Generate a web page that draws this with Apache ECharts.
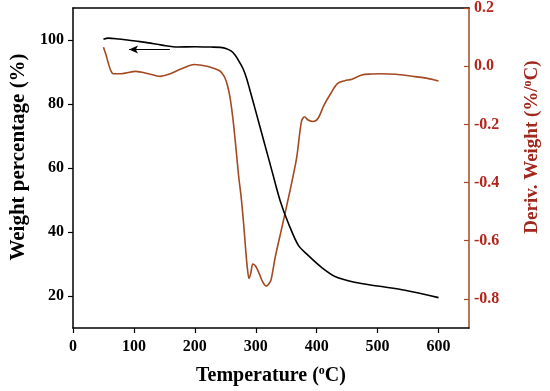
<!DOCTYPE html>
<html>
<head>
<meta charset="utf-8">
<script src="https://cdn.jsdelivr.net/npm/echarts@6/dist/echarts.min.js"></script>
<style>html,body{margin:0;padding:0;background:#fff}#c{width:550px;height:391px}</style>
</head>
<body>
<div id="c"></div>
<script>
// Weight (TG) curve
var tgTemp = [50, 58, 75, 92, 110, 124, 146, 172, 200, 226, 242, 252, 260, 266, 272, 279, 285, 290, 300, 313, 327, 340, 354, 370, 386, 407, 431, 462, 500, 545, 600];
var tgWeight = [100.2, 100.6, 100.3, 99.9, 99.5, 99.1, 98.4, 97.8, 97.9, 97.8, 97.7, 97.3, 96.5, 95.3, 93.5, 91.1, 88.0, 84.6, 77.7, 68.6, 58.8, 49.8, 42.5, 35.8, 32.7, 29.1, 26.0, 24.3, 23.1, 21.8, 19.5];
// Derivative weight (DTG) curve
var dtgTemp = [50, 54, 58, 62, 66, 79, 103, 124, 143, 156, 178, 199, 220, 232, 240, 245, 250, 254, 258, 263, 268, 272, 276, 280, 283, 286, 289, 292, 295, 299, 303, 307, 311, 317, 321, 325, 332, 343, 356, 367, 375, 380, 386, 394, 402, 412, 423, 434, 446, 458, 474, 490, 506, 530, 554, 580, 600];
var dtgValue = [0.065, 0.04, 0.01, -0.015, -0.026, -0.026, -0.018, -0.026, -0.035, -0.029, -0.009, 0.006, 0.0, -0.008, -0.015, -0.025, -0.043, -0.07, -0.111, -0.19, -0.293, -0.38, -0.45, -0.54, -0.62, -0.69, -0.73, -0.71, -0.68, -0.685, -0.70, -0.72, -0.74, -0.756, -0.75, -0.735, -0.656, -0.553, -0.43, -0.316, -0.19, -0.174, -0.185, -0.19, -0.18, -0.134, -0.094, -0.06, -0.05, -0.045, -0.03, -0.027, -0.026, -0.028, -0.034, -0.041, -0.051];
// Tick values
var xTicks = [0, 100, 200, 300, 400, 500, 600];
var leftTicks = [20, 40, 60, 80, 100];
var rightTicks = [-0.8, -0.6, -0.4, -0.2, 0.0, 0.2];
// Arrow (points to weight axis)
var arrowStart = [159, 97];
var arrowEnd = [92, 97];

function zip(a, b) { return a.map(function (v, i) { return [v, b[i]]; }); }

var FONT = '"Liberation Serif","Times New Roman",serif';
var BROWN = '#a34a22';
var RED = '#b3261e';

var chart = echarts.init(document.getElementById('c'), null, {renderer: 'canvas'});
chart.setOption({
  animation: false,
  backgroundColor: '#fff',
  grid: {left: 69, right: 75, top: 5, bottom: 63, containLabel: false},
  xAxis: [{
    type: 'value', min: 0, max: 650,
    axisLine: {show: true, onZero: false, lineStyle: {color: '#000', width: 1.5}},
    axisTick: {show: true, inside: false, length: 5, customValues: xTicks, lineStyle: {color: '#000', width: 1.2}},
    axisLabel: {customValues: xTicks, margin: 11, fontFamily: FONT, fontWeight: 'bold', fontSize: 16, color: '#000'},
    splitLine: {show: false},
    name: 'Temperature ({sup|o}C)', nameLocation: 'middle', nameGap: 37,
    nameTextStyle: {fontFamily: FONT, fontWeight: 'bold', fontSize: 20, color: '#000',
      rich: {sup: {fontFamily: FONT, fontWeight: 'bold', fontSize: 12, color: '#000', padding: [0, 0, 9, 0]}}}
  }, {
    type: 'value', min: 0, max: 650, position: 'top',
    axisLine: {show: true, onZero: false, lineStyle: {color: '#000', width: 1.5}},
    axisTick: {show: false}, axisLabel: {show: false}, splitLine: {show: false}
  }],
  yAxis: [{
    type: 'value', min: 10, max: 110, position: 'left',
    axisLine: {show: true, onZero: false, lineStyle: {color: '#000', width: 1.5}},
    axisTick: {show: true, inside: false, length: 5, customValues: leftTicks, lineStyle: {color: '#000', width: 1.2}},
    axisLabel: {customValues: leftTicks, margin: 9, fontFamily: FONT, fontWeight: 'bold', fontSize: 16, color: '#000'},
    splitLine: {show: false},
    name: 'Weight percentage (%)', nameLocation: 'middle', nameGap: 44, nameRotate: 90,
    nameTextStyle: {fontFamily: FONT, fontWeight: 'bold', fontSize: 21, color: '#000', padding: [0, 0, 0, 22]}
  }, {
    type: 'value', min: -0.9, max: 0.2, position: 'right',
    axisLine: {show: true, onZero: false, lineStyle: {color: BROWN, width: 1.5}},
    axisTick: {show: true, inside: true, length: 5, customValues: rightTicks, lineStyle: {color: BROWN, width: 1.2}},
    axisLabel: {customValues: rightTicks, margin: 5, fontFamily: FONT, fontWeight: 'bold', fontSize: 16, color: RED,
      formatter: function (v) { return v.toFixed(1); }},
    splitLine: {show: false},
    name: 'Deriv. Weight (%/{sup|o}C)', nameLocation: 'middle', nameGap: 53, nameRotate: 90,
    nameTextStyle: {fontFamily: FONT, fontWeight: 'bold', fontSize: 19, color: '#a0281c', padding: [0, 0, 0, 42],
      rich: {sup: {fontFamily: FONT, fontWeight: 'bold', fontSize: 12, color: '#a0281c', padding: [0, 0, 9, 0]}}}
  }],
  series: [{
    type: 'line', xAxisIndex: 0, yAxisIndex: 0, data: zip(tgTemp, tgWeight),
    showSymbol: false, smooth: 0.3, lineStyle: {color: '#000', width: 1.6}, z: 3,
    markLine: {
      silent: true, symbol: ['none', 'arrow'], symbolSize: [6, 9],
      label: {show: false},
      lineStyle: {color: '#000', width: 1.1, type: 'solid'},
      data: [[{coord: arrowStart}, {coord: arrowEnd}]]
    }
  }, {
    type: 'line', xAxisIndex: 0, yAxisIndex: 1, data: zip(dtgTemp, dtgValue),
    showSymbol: false, smooth: 0.3, lineStyle: {color: BROWN, width: 1.6}, z: 2
  }]
});
</script>
</body>
</html>
